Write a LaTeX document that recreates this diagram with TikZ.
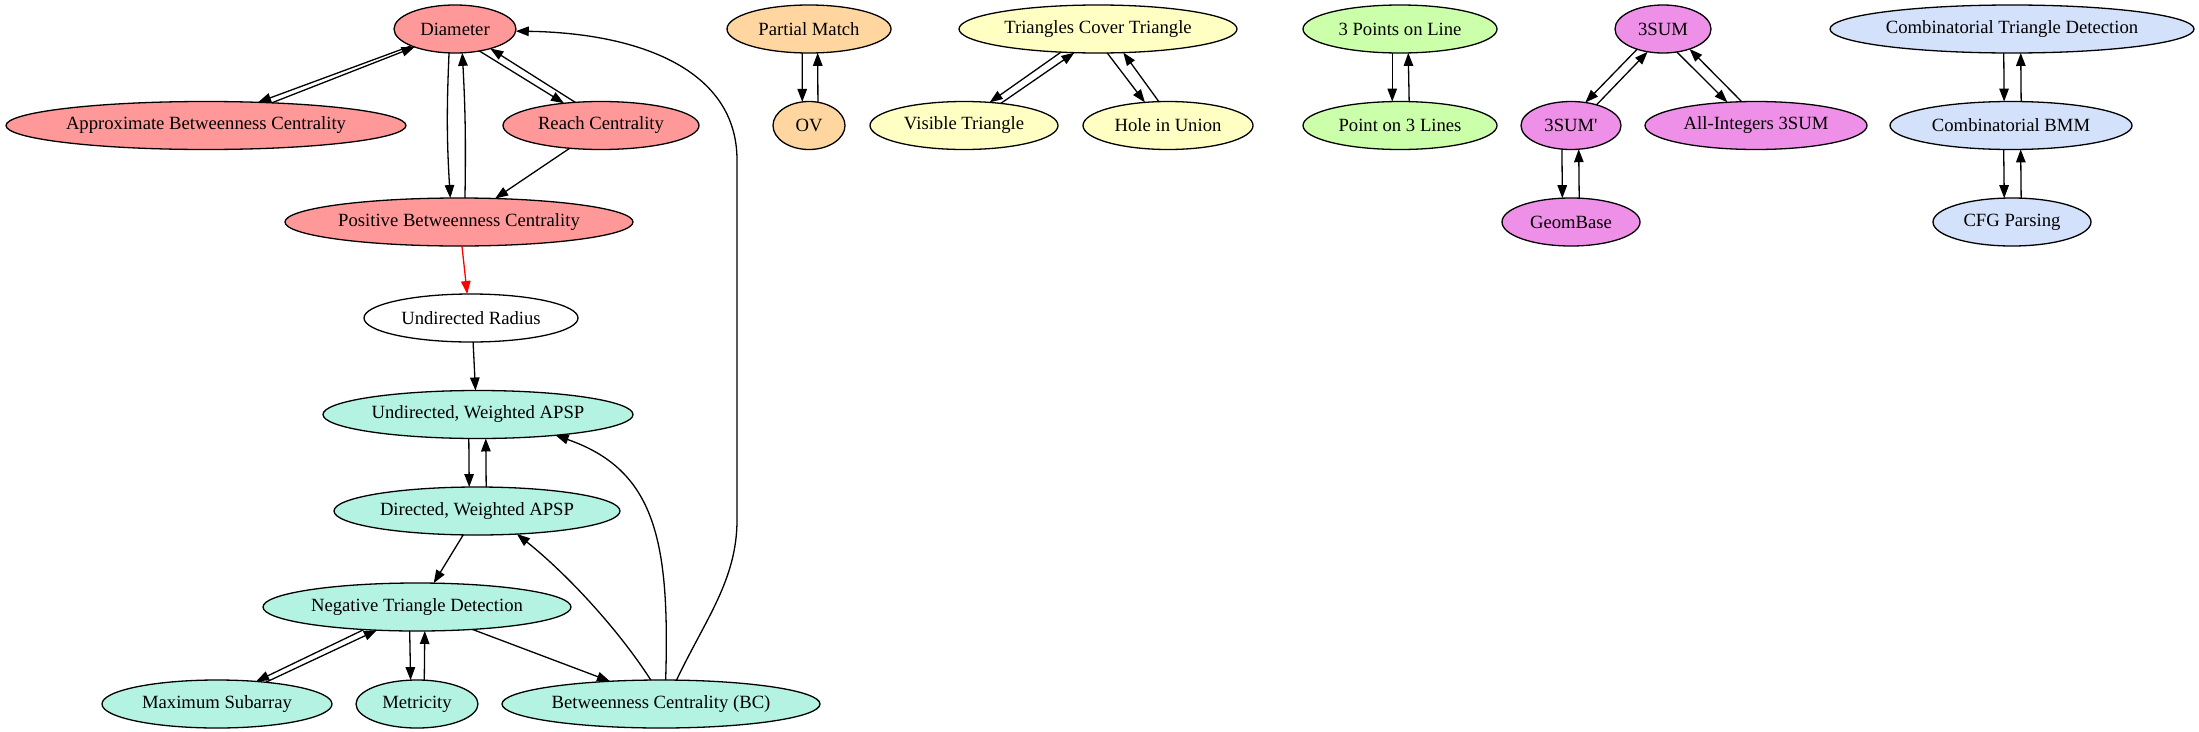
\documentclass[tikz,border=0pt]{standalone}
\usepackage{fontspec}
\newfontfamily\gvfont{Liberation Serif}
\usetikzlibrary{arrows.meta,shapes.geometric}
\definecolor{cred}{HTML}{FF9999}
\definecolor{cteal}{HTML}{B4F2E1}
\definecolor{corange}{HTML}{FFD6A0}
\definecolor{cyellow}{HTML}{FFFFC4}
\definecolor{cgreen}{HTML}{CCFFAA}
\definecolor{cmag}{HTML}{EE8FE8}
\definecolor{cblue}{HTML}{D4E1FA}
\begin{document}
\begin{tikzpicture}[x=1pt,y=-1pt,
  gnode/.style={ellipse, draw=black, line width=1.3pt, inner sep=0pt, outer sep=0pt,
    minimum height=48pt, font=\gvfont\fontsize{18.67}{22}\selectfont},
  edge/.style={line width=1.3pt, -{Triangle[length=13pt,width=9.5pt]}},
  rededge/.style={edge, draw=red, -{Triangle[length=13pt,width=9.5pt,fill=red]}},
]
\useasboundingbox (0,0) rectangle (2199,731);
% red group
\node[gnode, fill=cred, minimum width=122pt] (Diam) at (455,29) {Diameter};
\node[gnode, fill=cred, minimum width=400pt] (ABC) at (206,125.5) {Approximate Betweenness Centrality};
\node[gnode, fill=cred, minimum width=196pt] (RC) at (601,125.5) {Reach Centrality};
\node[gnode, fill=cred, minimum width=348pt] (PBC) at (459,222) {Positive Betweenness Centrality};
\node[gnode, fill=white, minimum width=214pt] (UR) at (471,318) {Undirected Radius};
% teal group
\node[gnode, fill=cteal, minimum width=310pt] (UW) at (478,414.5) {Undirected, Weighted APSP};
\node[gnode, fill=cteal, minimum width=286pt] (DW) at (477,511) {Directed, Weighted APSP};
\node[gnode, fill=cteal, minimum width=308pt] (NTD) at (417,607) {Negative Triangle Detection};
\node[gnode, fill=cteal, minimum width=230pt] (MS) at (217,704) {Maximum Subarray};
\node[gnode, fill=cteal, minimum width=122pt] (Met) at (417,704) {Metricity};
\node[gnode, fill=cteal, minimum width=318pt] (BC) at (661,704) {Betweenness Centrality (BC)};
% orange
\node[gnode, fill=corange, minimum width=164pt] (PM) at (809,29) {Partial Match};
\node[gnode, fill=corange, minimum width=72pt] (OV) at (809,125.5) {OV};
% yellow
\node[gnode, fill=cyellow, minimum width=278pt] (TCT) at (1098,29) {Triangles Cover Triangle};
\node[gnode, fill=cyellow, minimum width=188pt] (VT) at (964,125.5) {Visible Triangle};
\node[gnode, fill=cyellow, minimum width=170pt] (HU) at (1168,125.5) {Hole in Union};
% green
\node[gnode, fill=cgreen, minimum width=194pt] (TPL) at (1400,29) {3 Points on Line};
\node[gnode, fill=cgreen, minimum width=194pt] (PTL) at (1400,125.5) {Point on 3 Lines};
% magenta
\node[gnode, fill=cmag, minimum width=96pt] (S3) at (1663,29) {3SUM};
\node[gnode, fill=cmag, minimum width=100pt] (S3p) at (1571,125.5) {3SUM'};
\node[gnode, fill=cmag, minimum width=222pt] (AI) at (1756,125.5) {All-Integers 3SUM};
\node[gnode, fill=cmag, minimum width=138pt] (GB) at (1571,222) {GeomBase};
% blue
\node[gnode, fill=cblue, minimum width=364pt] (CTD) at (2012,29) {Combinatorial Triangle Detection};
\node[gnode, fill=cblue, minimum width=242pt] (CBMM) at (2011,125.5) {Combinatorial BMM};
\node[gnode, fill=cblue, minimum width=158pt] (CFG) at (2012,222) {CFG Parsing};

% red group edges
\draw[edge] (Diam.201.6) -- (ABC.24.4);
\draw[edge] (ABC.19.7) -- (Diam.204.9);
\draw[edge] (Diam.318.7) -- (RC.149.7);
\draw[edge] (RC.138.4) -- (Diam.331.7);
\draw[edge] (Diam.256.5) to[bend right=3] (PBC.110.6);
\draw[edge] (PBC.76) to[bend right=2] (Diam.287.7);
\draw[edge] (RC.216) -- (PBC.33);
\draw[rededge] (PBC.277) -- (UR.99.5);
\draw[edge] (UR.275) -- (UW.96.6);
% teal edges
\draw[edge] (UW.249.4) -- (DW.108.4);
\draw[edge] (DW.69.4) -- (UW.288.4);
\draw[edge] (DW.240.8) -- (NTD.55.8);
\draw[edge] (NTD.203.6) -- (MS.30.8);
\draw[edge] (MS.24.8) -- (NTD.210.3);
\draw[edge] (NTD.253.7) -- (Met.105);
\draw[edge] (Met.73) -- (NTD.288.4);
\draw[edge] (NTD.338.4) -- (BC.156.3);
\draw[edge] (BC.113.7) .. controls (618,629) and (567,574) .. (DW.330.4);
\draw[edge] (BC.79) .. controls (670,540) and (655,470) .. (UW.345);
\draw[edge] (BC.57.4) .. controls (705,620) and (737,580) .. (737,520) -- (737,160)
  .. controls (737,70) and (640,33) .. (Diam.358);
% orange
\draw[edge] (PM.254) -- (OV.106);
\draw[edge] (OV.69.4) -- (PM.290);
% yellow
\draw[edge] (TCT.212.7) -- (VT.42.7);
\draw[edge] (VT.31.6) -- (TCT.225);
\draw[edge] (TCT.291.8) -- (HU.135);
\draw[edge] (HU.111.8) -- (TCT.317.2);
% green
\draw[edge] (TPL.252) -- (PTL.108.4);
\draw[edge] (PTL.69.4) -- (TPL.289.8);
% magenta
\draw[edge] (S3.218.2) -- (S3p.58);
\draw[edge] (S3p.39.2) -- (S3.236.3);
\draw[edge] (S3.301.3) -- (AI.141);
\draw[edge] (AI.121) -- (S3.323.1);
\draw[edge] (S3p.249.4) -- (GB.110.6);
\draw[edge] (GB.71.6) -- (S3p.288.4);
% blue
\draw[edge] (CTD.251.6) -- (CBMM.106);
\draw[edge] (CBMM.67.4) -- (CTD.290.6);
\draw[edge] (CBMM.253.7) -- (CFG.108.4);
\draw[edge] (CFG.69.4) -- (CBMM.292.6);
\end{tikzpicture}
\end{document}
